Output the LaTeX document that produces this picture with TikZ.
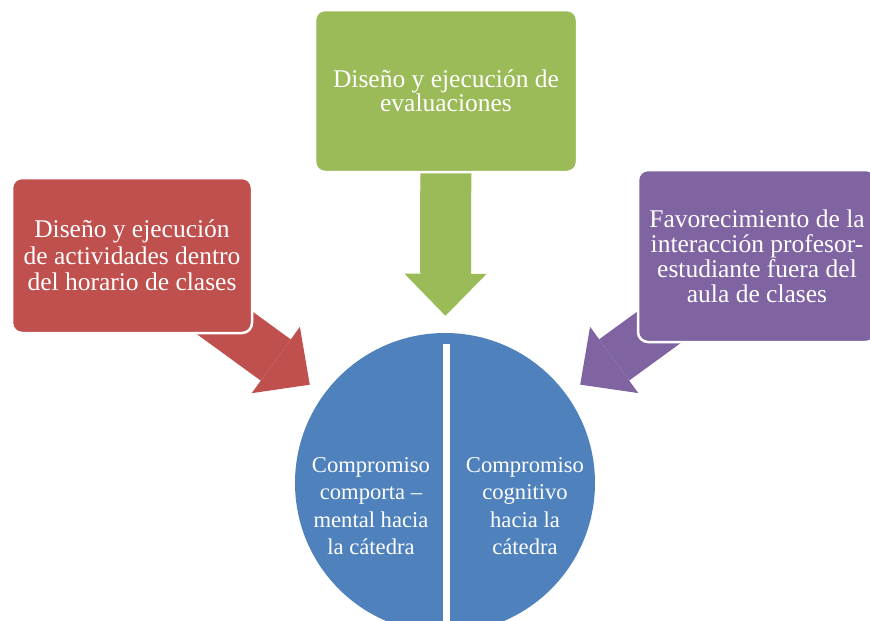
\documentclass[tikz,border=0pt]{standalone}
\usepackage{fontspec}
\setmainfont{Liberation Serif}
\usetikzlibrary{arrows.meta,backgrounds}
\definecolor{actred}{HTML}{C0504D}
\definecolor{evalgreen}{HTML}{9BBB59}
\definecolor{interpurple}{HTML}{8064A2}
\definecolor{diskblue}{HTML}{4F81BD}

\begin{document}
\begin{tikzpicture}[x=1pt,y=-1pt]
\tikzset{box/.style={draw=white,line width=2.5pt,rounded corners=10pt,
text=white, align=center, inner sep=0pt},
bigarrow/.style={line width=51pt,-{Triangle[width=82pt,length=42pt,line width=0pt]},
shorten >=17pt}}
\path[use as bounding box] (0,0) rectangle (870,621);
\clip (0,0) rectangle (870,621);

\node[circle,fill=diskblue,minimum size=300pt,inner sep=0pt] (Compromiso) at (445,483) {};
\draw[white,line width=7pt] ([xshift=1.5pt,yshift=-11pt]Compromiso.north) -- ([xshift=1.5pt]Compromiso.south);
\node[text=white,align=center,font=\fontsize{22.6}{27.5}\selectfont] (Comportamental) at (371,506)
{Compromiso\\comporta --\\mental hacia\\la cátedra};
\node[text=white,align=center,font=\fontsize{22.6}{27.5}\selectfont] (Cognitivo) at (525,506)
{Compromiso\\cognitivo\\hacia la\\cátedra};

\node[box,fill=evalgreen,minimum width=262pt,minimum height=162pt,
font=\fontsize{25.5}{23.5}\selectfont] (Evaluaciones) at (446,91)
{Diseño y ejecución de\\evaluaciones};
\node[box,fill=actred,minimum width=240pt,minimum height=155pt,
font=\fontsize{25.5}{26.7}\selectfont] (Actividades) at (132,255.5)
{Diseño y ejecución\\de actividades dentro\\del horario de clases};
\node[box,fill=interpurple,minimum width=238pt,minimum height=172pt,
font=\fontsize{25.5}{25}\selectfont] (Interaccion) at (757,256)
{Favorecimiento de la\\interacción profesor-\\estudiante fuera del\\aula de clases};

\begin{scope}[on background layer]
\path[bigarrow]
(Evaluaciones.center) edge[draw=evalgreen] (Compromiso)
(Actividades.center) edge[draw=actred] (Compromiso)
(Interaccion.center) edge[draw=interpurple] (Compromiso);
\end{scope}
\end{tikzpicture}
\end{document}
